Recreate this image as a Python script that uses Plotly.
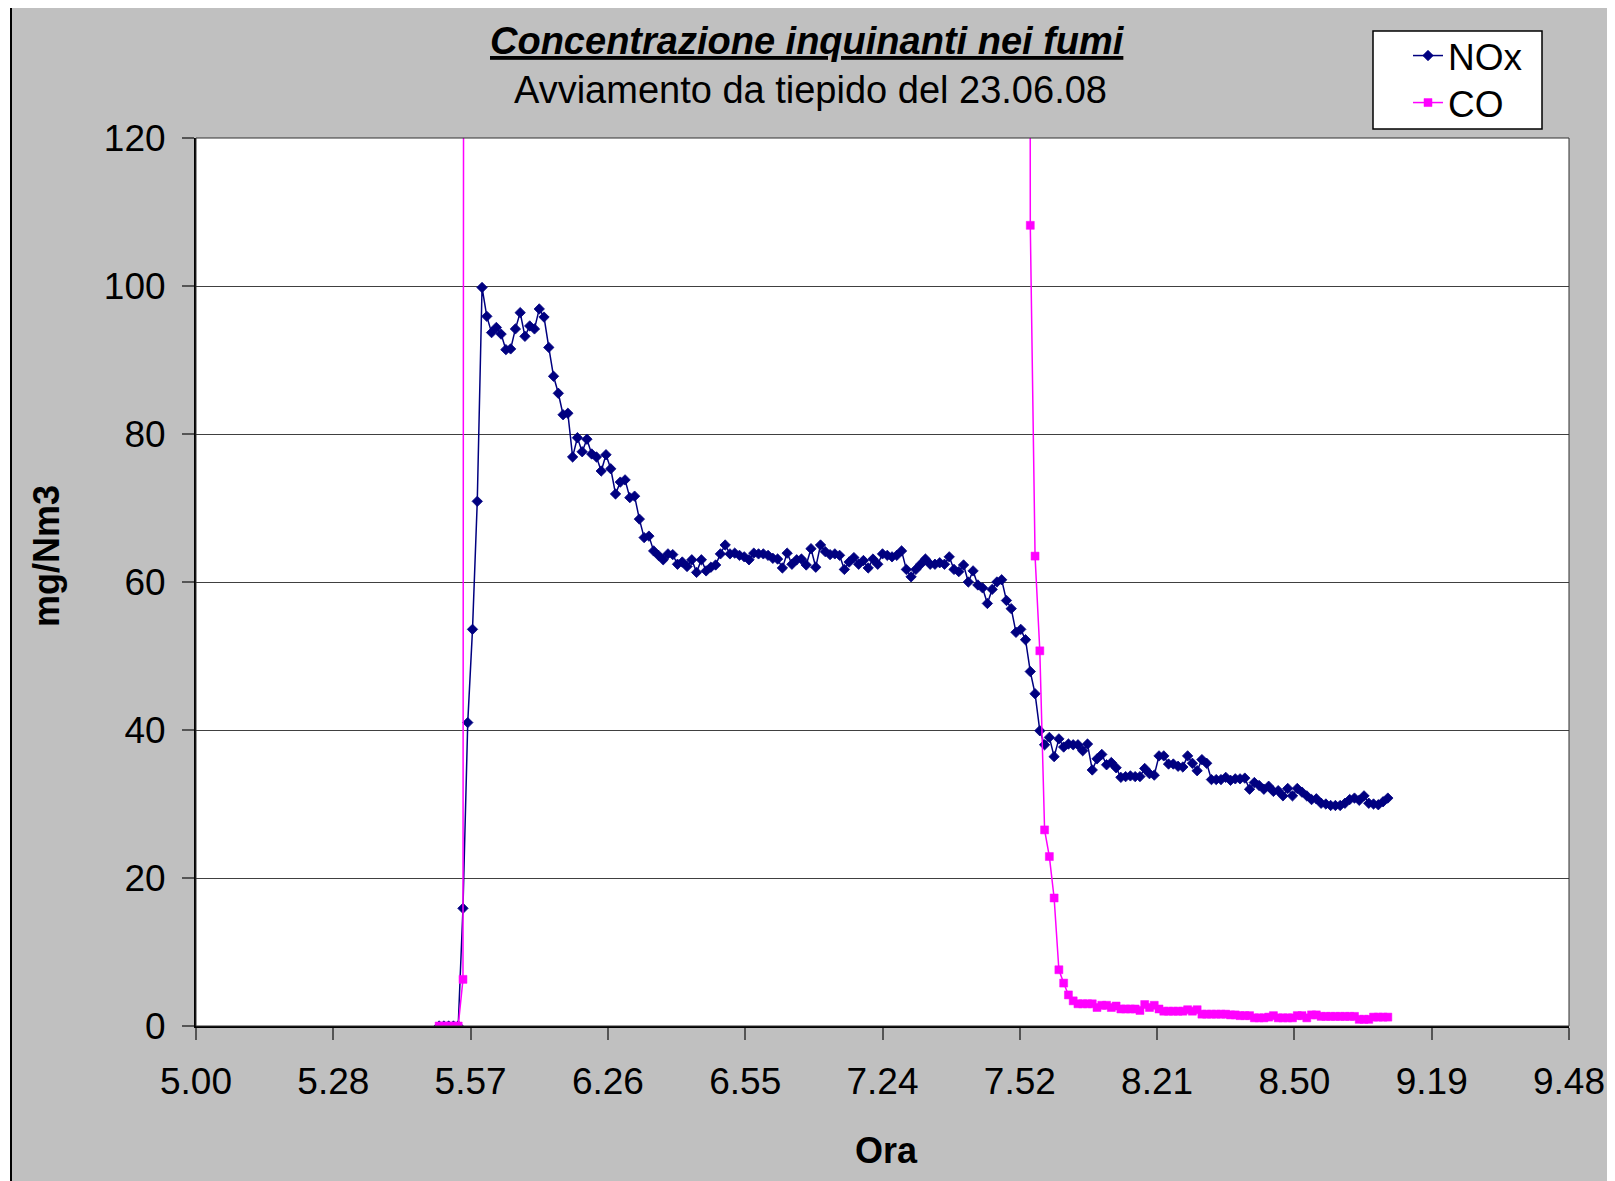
import pandas as pd
import plotly.graph_objects as go

# ---------------- data ----------------
DAY = "2008-06-23"

# NOx, one reading per minute starting 05:51
nox_start = "05:51"
nox_values = [
    0, 0, 0, 0, 0, 15.9, 41.0, 53.6, 70.9, 99.8,
    95.9, 93.7, 94.4, 93.5, 91.4, 91.5, 94.2, 96.4, 93.2, 94.6,
    94.2, 96.9, 95.8, 91.7, 87.8, 85.5, 82.6, 82.8, 76.9, 79.5,
    77.6, 79.3, 77.3, 76.9, 75.0, 77.2, 75.3, 71.9, 73.5, 73.8,
    71.4, 71.6, 68.5, 66.0, 66.2, 64.2, 63.6, 63.0, 63.8, 63.7,
    62.4, 62.7, 62.1, 63.0, 61.3,
    63.0, 61.5, 62.0, 62.3, 63.8, 65.0, 63.8, 63.9, 63.6, 63.4,
    63.0, 63.9, 63.8, 63.8, 63.6, 63.2, 63.1, 61.9, 63.9, 62.4,
    63.0, 63.1, 62.3, 64.5, 62.0, 65.0, 64.1, 63.7, 63.8, 63.6,
    61.7, 62.7, 63.3, 62.4, 62.9, 61.9, 63.1, 62.4, 63.8, 63.6,
    63.4, 63.6, 64.2, 61.7, 60.7, 61.7, 62.4, 63.1, 62.4, 62.4,
    62.6, 62.4, 63.4, 61.7, 61.4, 62.3, 60.0, 61.5, 59.6, 59.2,
    57.1, 59.0, 60.0, 60.3, 57.5,
    56.4, 53.2, 53.6, 52.2, 47.9, 44.9, 39.9, 38.0, 39.0, 36.4,
    38.8, 37.7, 38.1, 38.0, 38.0, 37.2, 38.1, 34.6, 36.1, 36.7,
    35.3, 35.6, 34.9, 33.6, 33.7, 33.8, 33.7, 33.7, 34.8, 34.1,
    33.9, 36.5, 36.5, 35.4, 35.4, 35.1, 35.0, 36.5, 35.5, 34.5,
    36.0, 35.5, 33.3, 33.3, 33.3, 33.6, 33.2, 33.4, 33.4, 33.5,
    32.0, 32.9, 32.5, 32.0, 32.4, 31.7, 31.8, 31.1, 32.1, 31.1,
    32.1, 31.6, 31.1, 30.6, 30.7, 30.1, 30.0, 29.8, 29.8, 29.8,
    30.1, 30.6, 30.8, 30.5, 31.1, 30.1, 30.0, 29.9, 30.3, 30.8,
]

# CO: readings above the 120 mg/Nm3 axis limit are off-scale (estimated value)
CO_OFFSCALE = 1000
co_start_1 = "05:51"
co_values_1 = [0, 0, 0, 0, 0, 6.3, CO_OFFSCALE]
co_start_2 = "07:54"
co_values_2 = [
    CO_OFFSCALE, 108.2, 63.5, 50.7,
    26.5, 22.9, 17.3, 7.6, 5.8, 4.2, 3.4, 3.0, 3.0, 3.0,
    3.0, 2.5, 2.8, 2.8, 2.5, 2.7, 2.3, 2.3, 2.3, 2.3,
    2.1, 2.9, 2.5, 2.8, 2.3, 2.0, 2.0, 2.0, 2.0, 2.0,
    2.2, 2.0, 2.2, 1.6, 1.6, 1.6, 1.6, 1.6, 1.6, 1.5,
    1.5, 1.4, 1.4, 1.4, 1.1, 1.1, 1.1, 1.2, 1.4, 1.1,
    1.1, 1.1, 1.1, 1.4, 1.4, 1.1, 1.5, 1.5, 1.3, 1.3,
    1.3, 1.3, 1.3, 1.3, 1.3, 1.3, 0.9, 0.9, 0.9, 1.2,
    1.2, 1.2, 1.2,
]

x_range = ["05:00", "09:48"]
y_ticks = [0, 20, 40, 60, 80, 100, 120]


def minutes_from(start, n):
    return list(pd.date_range(f"{DAY} {start}", periods=n, freq="min"))


nox_times = minutes_from(nox_start, len(nox_values))
co_times = minutes_from(co_start_1, len(co_values_1)) + minutes_from(co_start_2, len(co_values_2))
co_values = co_values_1 + co_values_2

# ---------------- layout helpers ----------------
# page body has an 8 px margin: the figure starts at (8, 8) in the window
OFF = 8
W, H = 1615 - OFF, 1181 - OFF
L, R, T, B = 196, 1569, 138, 1026          # plot area in window pixels
FONT = "Liberation Sans, Arial, sans-serif"


def px(x):
    return (x - L) / (R - L)


def py(y):
    return (B - y) / (B - T)


fig = go.Figure()
fig.add_trace(go.Scatter(
    x=nox_times, y=nox_values, name="NOx", mode="lines+markers",
    line=dict(color="#000080", width=1.5),
    marker=dict(symbol="diamond", size=8, color="#000080",
                line=dict(color="#000080", width=0.8)),
    legend="legend",
))
fig.add_trace(go.Scatter(
    x=co_times, y=co_values, name="CO", mode="lines+markers",
    line=dict(color="#FF00FF", width=1.5),
    marker=dict(symbol="square", size=8, color="#FF00FF",
                line=dict(color="#FF00FF", width=0.5)),
    legend="legend2",
))

legend_common = dict(xanchor="left", yanchor="top", bgcolor="rgba(0,0,0,0)",
                     borderwidth=0, font=dict(family=FONT, size=37, color="black"))
fig.update_layout(
    width=W, height=H,
    margin=dict(l=L - OFF, r=W - (R - OFF), t=T - OFF, b=H - (B - OFF), autoexpand=False),
    paper_bgcolor="#C0C0C0", plot_bgcolor="white",
    font=dict(family=FONT, size=37, color="black"),
    showlegend=True,
    legend=dict(x=px(1408), y=py(25), **legend_common),
    legend2=dict(x=px(1408), y=py(72), **legend_common),
)

fig.update_xaxes(
    type="date",
    range=[f"{DAY} {x_range[0]}", f"{DAY} {x_range[1]}"],
    tick0=f"{DAY} {x_range[0]}", dtick=28.8 * 60 * 1000,
    tickformat="%-H.%M",
    showgrid=False, zeroline=False,
    showline=True, linecolor="black", linewidth=2,
    ticks="outside", ticklen=12, tickwidth=1.5, tickcolor="#555555",
    tickfont=dict(family=FONT, size=37, color="black"),
    ticklabelstandoff=10,
)
fig.update_yaxes(
    range=[0, 120], tickvals=y_ticks,
    showgrid=True, gridcolor="#404040", gridwidth=1,
    zeroline=False,
    showline=True, linecolor="black", linewidth=2,
    ticks="outside", ticklen=12, tickwidth=1.5, tickcolor="#555555",
    tickfont=dict(family=FONT, size=37, color="black"),
    ticklabelstandoff=9,
)

shapes = [
    # white page strips outside the grey chart frame, and the frame itself
    dict(type="rect", xref="paper", yref="paper", layer="below",
         x0=px(0), x1=px(1640), y0=py(1200), y1=py(0),
         fillcolor="white", line=dict(width=0)),
    dict(type="rect", xref="paper", yref="paper", layer="below",
         x0=px(11), x1=px(1613), y0=py(1200), y1=py(6.7),
         fillcolor="#C0C0C0", line=dict(color="black", width=2)),
    # white plot area
    dict(type="rect", xref="paper", yref="paper", layer="below",
         x0=0, x1=1, y0=0, y1=1, fillcolor="white", line=dict(width=0)),
    # legend box
    dict(type="rect", xref="paper", yref="paper", layer="below",
         x0=px(1373), x1=px(1542), y0=py(129), y1=py(31),
         fillcolor="white", line=dict(color="black", width=1.5)),
    # plot-area frame
    dict(type="rect", xref="paper", yref="paper", layer="above",
         x0=0, x1=1, y0=0, y1=1,
         line=dict(color="#303030", width=1)),
]
fig.update_layout(shapes=shapes)

annotations = [
    dict(text="<b><i>Concentrazione inquinanti nei fumi</i></b>",
         font=dict(family=FONT, size=38, color="black", lineposition="under"),
         x=px(807), y=py(41)),
    dict(text="Avviamento da tiepido del 23.06.08",
         font=dict(family=FONT, size=38, color="black"),
         x=px(810), y=py(90)),
    dict(text="<b>Ora</b>", font=dict(family=FONT, size=36, color="black"),
         x=px(886), y=py(1150)),
    dict(text="<b>mg/Nm3</b>", font=dict(family=FONT, size=36, color="black"),
         x=px(46), y=py(556), textangle=-90),
]
for a in annotations:
    fig.add_annotation(xref="paper", yref="paper", showarrow=False,
                       xanchor="center", yanchor="middle", **a)

fig.write_html("out.html")
